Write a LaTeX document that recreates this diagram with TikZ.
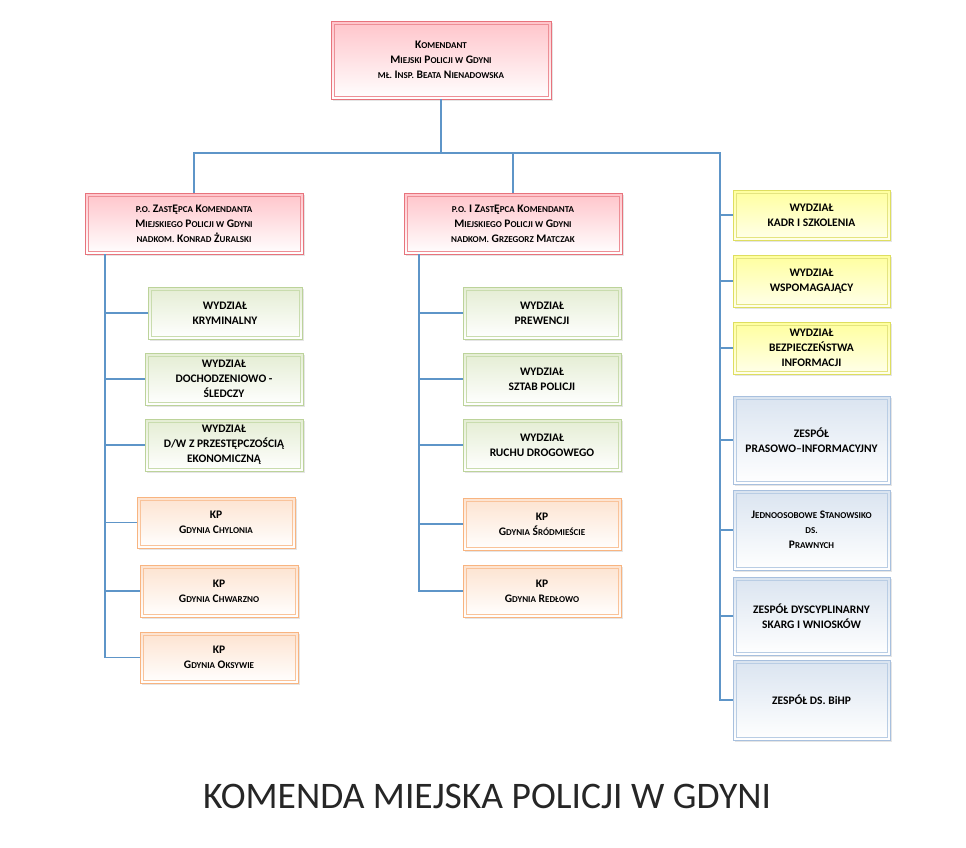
\documentclass[tikz,border=0pt]{standalone}
\usepackage{fontspec}
\setmainfont{Carlito}
\usetikzlibrary{shadows}
\newcommand\s[1]{{\fontsize{9}{10}\selectfont #1}}
\definecolor{conn}{HTML}{5E95C8}
\begin{document}
\begin{tikzpicture}[x=1pt,y=-1pt,
  box/.style={draw=#1, line width=0.8pt, align=center, font=\bfseries\fontsize{11.5}{15}\selectfont,
    inner sep=0pt, drop shadow={shadow xshift=2pt,shadow yshift=-2pt,fill=black!20},
    path picture={\draw[#1!80, line width=0.5pt] ([shift={(3pt,-3pt)}]path picture bounding box.north west) rectangle ([shift={(-3pt,3pt)}]path picture bounding box.south east);}},
  pink/.style={box=pinkc, top color=pinkt, bottom color=white},
  green/.style={box=greenc, top color=greent, bottom color=white},
  orange/.style={box=orangec, top color=oranget, bottom color=white},
  yellow/.style={box=yellowc, top color=yellowt, bottom color=yellow!8},
  blue/.style={box=bluec, top color=bluet, bottom color=white},
  ln/.style={draw=conn, line width=1.3pt}]
\definecolor{pinkc}{HTML}{E8737C}\definecolor{pinkt}{HTML}{FFC4CA}
\definecolor{greenc}{HTML}{BCD39A}\definecolor{greent}{HTML}{E4EDD3}
\definecolor{orangec}{HTML}{F8B480}\definecolor{oranget}{HTML}{FDE3D0}
\definecolor{yellowc}{HTML}{DEDE60}\definecolor{yellowt}{HTML}{FFFF9E}
\definecolor{bluec}{HTML}{A8C0DE}\definecolor{bluet}{HTML}{DAE4F0}
\useasboundingbox[fill=white] (0,0) rectangle (966,847);
\newcommand\bx[6]{\node[#1, minimum width={#4-#3}, minimum height={#6-#5}] (#2) at ({(#3+#4)/2},{(#5+#6)/2})}
% top
\bx{pink}{kom}{331}{551}{21}{99}{K\s{OMENDANT}\\M\s{IEJSKI} P\s{OLICJI W} G\s{DYNI}\\\s{MŁ.} I\s{NSP.} B\s{EATA} N\s{IENADOWSKA}};
\bx{pink}{z1}{85}{303}{193}{254}{\s{P.O.} Z\s{AST}Ę\s{PCA} K\s{OMENDANTA}\\M\s{IEJSKIEGO} P\s{OLICJI W} G\s{DYNI}\\\s{NADKOM.} K\s{ONRAD} Ż\s{URALSKI}};
\bx{pink}{z2}{404}{622}{193}{254}{\s{P.O.} I Z\s{AST}Ę\s{PCA} K\s{OMENDANTA}\\M\s{IEJSKIEGO} P\s{OLICJI W} G\s{DYNI}\\\s{NADKOM.} G\s{RZEGORZ} M\s{ATCZAK}};
% left
\bx{green}{l1}{148}{302}{287}{339}{WYDZIAŁ\\KRYMINALNY};
\bx{green}{l2}{145}{303}{353}{405}{WYDZIAŁ\\DOCHODZENIOWO -\\ŚLEDCZY};
\bx{green}{l3}{145}{303}{419}{471}{WYDZIAŁ\\D/W Z PRZESTĘPCZOŚCIĄ\\EKONOMICZNĄ};
\bx{orange}{l4}{137}{295}{497}{548}{KP\\G\s{DYNIA} C\s{HYLONIA}};
\bx{orange}{l5}{140}{298}{565}{617}{KP\\G\s{DYNIA} C\s{HWARZNO}};
\bx{orange}{l6}{140}{298}{632}{683}{KP\\G\s{DYNIA} O\s{KSYWIE}};
% middle
\bx{green}{m1}{463}{621}{287}{339}{WYDZIAŁ\\PREWENCJI};
\bx{green}{m2}{463}{621}{353}{405}{WYDZIAŁ\\SZTAB POLICJI};
\bx{green}{m3}{463}{621}{419}{471}{WYDZIAŁ\\RUCHU DROGOWEGO};
\bx{orange}{m4}{463}{621}{498}{550}{KP\\G\s{DYNIA} Ś\s{RÓDMIEŚCIE}};
\bx{orange}{m5}{463}{621}{565}{617}{KP\\G\s{DYNIA} R\s{EDŁOWO}};
% right
\bx{yellow}{r1}{733}{890}{190}{240}{WYDZIAŁ\\KADR I SZKOLENIA};
\bx{yellow}{r2}{733}{890}{255}{307}{WYDZIAŁ\\WSPOMAGAJĄCY};
\bx{yellow}{r3}{733}{890}{322}{374}{WYDZIAŁ\\BEZPIECZEŃSTWA\\INFORMACJI};
\bx{blue}{r4}{733}{890}{396}{484}{ZESPÓŁ\\PRASOWO–INFORMACYJNY};
\bx{blue}{r5}{733}{890}{490}{570}{J\s{EDNOOSOBOWE} S\s{TANOWSIKO}\\\s{DS.}\\P\s{RAWNYCH}};
\bx{blue}{r6}{733}{890}{577}{655}{ZESPÓŁ DYSCYPLINARNY\\SKARG I WNIOSKÓW};
\bx{blue}{r7}{733}{890}{660}{740}{ZESPÓŁ DS. BiHP};
% connectors
\coordinate (hub) at (441,153);
\coordinate (L) at (105,0); \coordinate (M) at (419,0); \coordinate (R) at (720,0);
\draw[ln] (kom.south) -- (hub);
\draw[ln] (z1.north) |- (hub) -| (z2.north);
\draw[ln] (hub) -| (R|-r7.west) -- (r7.west);
\foreach \n in {r1,r2,r3,r4,r5,r6} \draw[ln] (R|-\n.west) -- (\n.west);
\draw[ln] (L|-z1.south) -- (L|-l6.west) -- (l6.west);
\foreach \n in {l1,l2,l3,l4,l5} \draw[ln] (L|-\n.west) -- (\n.west);
\draw[ln] (M|-z2.south) -- (M|-m5.west) -- (m5.west);
\foreach \n in {m1,m2,m3,m4} \draw[ln] (M|-\n.west) -- (\n.west);
\node[font=\fontsize{37.5}{40}\selectfont, text=black!85] (title) at (487,796) {KOMENDA MIEJSKA POLICJI W GDYNI};
\end{tikzpicture}
\end{document}
